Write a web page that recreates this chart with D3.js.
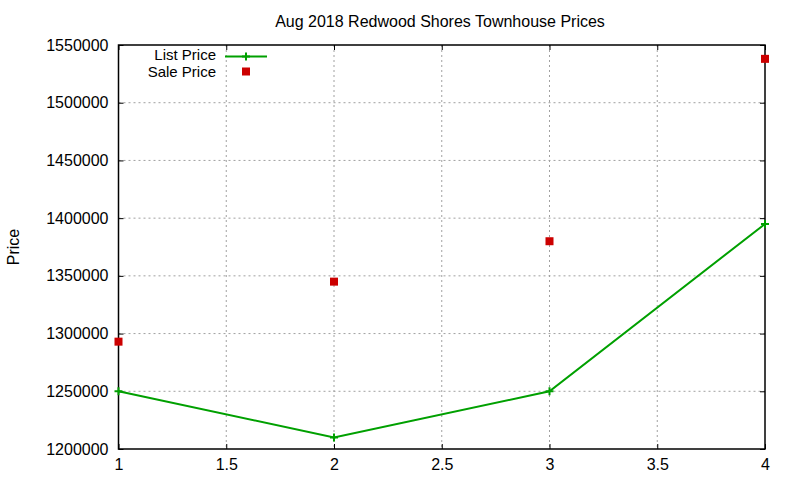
<!DOCTYPE html>
<html>
<head>
<meta charset="utf-8">
<script src="https://cdn.jsdelivr.net/npm/d3@7"></script>
<style>
  body { margin: 0; background: #fff; }
  svg { font-family: "Liberation Sans", Arial, sans-serif; }
</style>
</head>
<body>
<svg id="chart" width="800" height="480"></svg>
<script>
// data
const xs = [1, 2, 3, 4];
const listPrice = [1250000, 1210000, 1250000, 1395000];
const salePrice = [1293000, 1345000, 1380000, 1538000];
const xTicks = [1, 1.5, 2, 2.5, 3, 3.5, 4];
const yTicks = [1200000, 1250000, 1300000, 1350000, 1400000, 1450000, 1500000, 1550000];

const margin = { top: 45, right: 35, bottom: 31, left: 118.5 };
const width = 800 - margin.left - margin.right;
const height = 480 - margin.top - margin.bottom;

const svg = d3.select("#chart");
const g = svg.append("g").attr("transform", `translate(${margin.left},${margin.top})`);

const x = d3.scaleLinear().domain([1, 4]).range([0, width]);
const y = d3.scaleLinear().domain([1200000, 1550000]).range([height, 0]);

const green = "#00a000";
const red = "#cc0000";

// grid
g.append("g").selectAll("line")
    .data(xTicks.slice(1, -1))
    .join("line")
    .attr("x1", d => x(d)).attr("x2", d => x(d))
    .attr("y1", 0).attr("y2", height)
    .attr("stroke", "#a0a0a0").attr("stroke-dasharray", "2,3");
g.append("g").selectAll("line")
    .data(yTicks.slice(1, -1))
    .join("line")
    .attr("x1", 0).attr("x2", width)
    .attr("y1", d => y(d)).attr("y2", d => y(d))
    .attr("stroke", "#a0a0a0").attr("stroke-dasharray", "2,3");

// axes with inward ticks, mirrored
const fmt = d3.format("d");
const styleAxis = sel => {
    sel.select(".domain").remove();
    sel.selectAll("line").attr("stroke", "#000");
    sel.selectAll("text").attr("fill", "#000").style("font-size", "16px");
};
g.append("g").attr("transform", `translate(0,${height})`)
    .call(d3.axisBottom(x).tickValues(xTicks).tickFormat(d3.format("")).tickSizeInner(-5).tickSizeOuter(0).tickPadding(10))
    .call(styleAxis);
g.append("g")
    .call(d3.axisTop(x).tickValues(xTicks).tickFormat("").tickSizeInner(-5).tickSizeOuter(0))
    .call(styleAxis);
g.append("g")
    .call(d3.axisLeft(y).tickValues(yTicks).tickFormat(fmt).tickSizeInner(-5).tickSizeOuter(0).tickPadding(10))
    .call(styleAxis);
g.append("g").attr("transform", `translate(${width},0)`)
    .call(d3.axisRight(y).tickValues(yTicks).tickFormat("").tickSizeInner(-5).tickSizeOuter(0))
    .call(styleAxis);

g.append("rect")
    .attr("width", width).attr("height", height)
    .attr("fill", "none").attr("stroke", "#000").attr("stroke-width", 1.5);

// list price line
const listData = xs.map((d, i) => ({ x: d, y: listPrice[i] }));
g.append("path")
    .datum(listData)
    .attr("fill", "none")
    .attr("stroke", green)
    .attr("stroke-width", 2)
    .attr("d", d3.line().x(d => x(d.x)).y(d => y(d.y)));
g.append("g").selectAll("path")
    .data(listData)
    .join("path")
    .attr("d", d => `M${x(d.x) - 4},${y(d.y)}h8M${x(d.x)},${y(d.y) - 4}v8`)
    .attr("stroke", green).attr("stroke-width", 2);

// sale price points
g.append("g").selectAll("rect")
    .data(xs.map((d, i) => ({ x: d, y: salePrice[i] })))
    .join("rect")
    .attr("x", d => x(d.x) - 4).attr("y", d => y(d.y) - 4)
    .attr("width", 8).attr("height", 8)
    .attr("fill", red);

// legend
const leg = svg.append("g");
leg.append("text").attr("x", 216).attr("y", 55).attr("dy", "0.35em")
    .attr("text-anchor", "end").style("font-size", "15px").text("List Price");
leg.append("line").attr("x1", 225).attr("x2", 267).attr("y1", 56.5).attr("y2", 56.5)
    .attr("stroke", green).attr("stroke-width", 2);
leg.append("path").attr("d", "M242,56.5h8M246,52.5v8").attr("stroke", green).attr("stroke-width", 2);
leg.append("text").attr("x", 216).attr("y", 71.5).attr("dy", "0.35em")
    .attr("text-anchor", "end").style("font-size", "15px").text("Sale Price");
leg.append("rect").attr("x", 242).attr("y", 67.5).attr("width", 8).attr("height", 8).attr("fill", red);

// title and axis label
svg.append("text").attr("x", 440).attr("y", 21).attr("dy", "0.35em")
    .attr("text-anchor", "middle").style("font-size", "16px")
    .text("Aug 2018 Redwood Shores Townhouse Prices");
svg.append("text")
    .attr("transform", "translate(13,247) rotate(-90)")
    .attr("dy", "0.35em")
    .attr("text-anchor", "middle").style("font-size", "16px")
    .text("Price");
</script>
</body>
</html>
